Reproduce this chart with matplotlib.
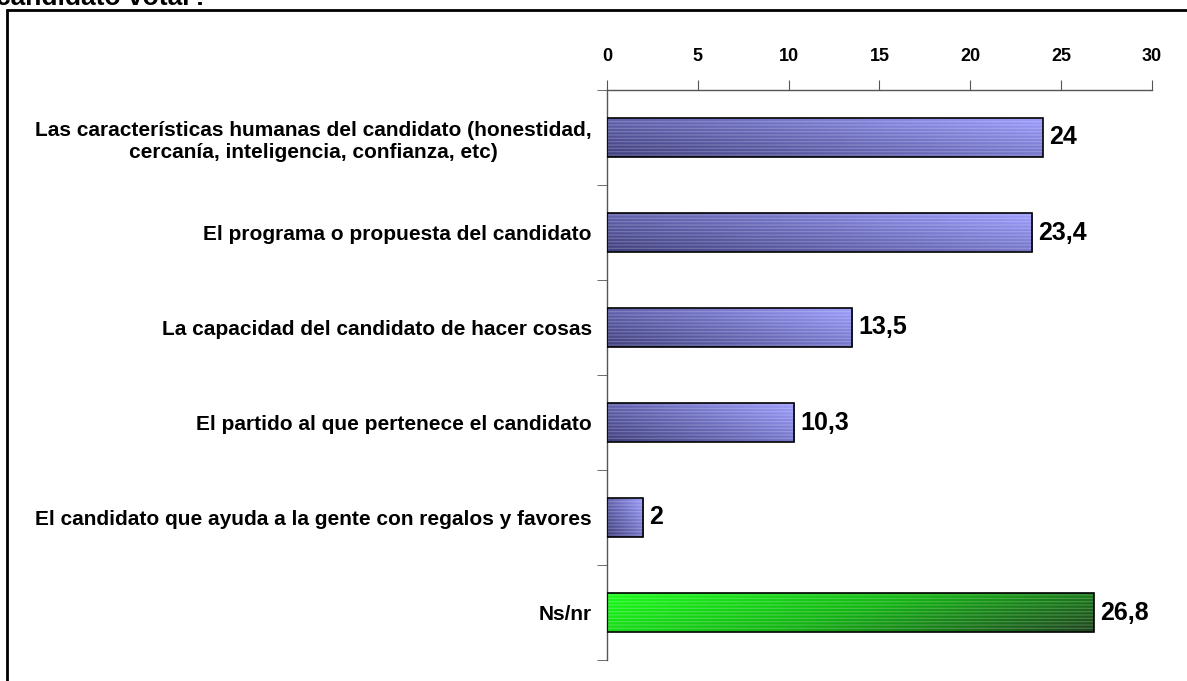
import matplotlib
matplotlib.use('Agg')
import matplotlib.pyplot as plt
import numpy as np
from matplotlib.colors import LinearSegmentedColormap
from matplotlib.patches import Rectangle

plt.rcParams['font.family'] = ['Liberation Sans', 'DejaVu Sans']
plt.rcParams['hatch.linewidth'] = 0.8

categories = [
    "Las características humanas del candidato (honestidad,\ncercanía, inteligencia, confianza, etc)",
    "El programa o propuesta del candidato",
    "La capacidad del candidato de hacer cosas",
    "El partido al que pertenece el candidato",
    "El candidato que ayuda a la gente con regalos y favores",
    "Ns/nr",
]
values = [24, 23.4, 13.5, 10.3, 2, 26.8]
value_labels = ["24", "23,4", "13,5", "10,3", "2", "26,8"]
xticks = [0, 5, 10, 15, 20, 25, 30]

W, H = 1187, 681
fig = plt.figure(figsize=(W / 100, H / 100), dpi=100)
ax = fig.add_axes([607 / W, 1 - 660 / H, (1152 - 607) / W, (660 - 90) / H])

blue = LinearSegmentedColormap.from_list('b', ['#40407e', '#6c6cbc', '#9e9eff'])
green = LinearSegmentedColormap.from_list('g', ['#1aff1a', '#14b414', '#1e441e'])

y = np.arange(len(categories))
bh = 0.42
bars = ax.barh(y, values, height=bh, facecolor='none', edgecolor='black',
               linewidth=1.2, zorder=3)

u = np.linspace(0, 1, 200)
v = np.linspace(0, 1, 40)
U, V = np.meshgrid(u, v)  # V=0 at top row of image
for i, (b, val) in enumerate(zip(bars, values)):
    if categories[i] == "Ns/nr":
        t = 0.75 * U + 0.25 * V
        cmap = green
    else:
        t = 0.6 * U + 0.4 * (1 - V)
        cmap = blue
    im = ax.imshow(t, cmap=cmap, extent=[0, val, i + bh / 2, i - bh / 2],
                   aspect='auto', zorder=2, origin='upper', vmin=0, vmax=1)
    im.set_clip_path(b)
    # faint line texture
    ax.barh(i, val, height=bh, facecolor='none', edgecolor=(1, 1, 1, 0.22),
            hatch='-----', linewidth=0, zorder=2.5)

for i, (val, lab) in enumerate(zip(values, value_labels)):
    ax.text(val + 0.33, i, lab, va='center', ha='left', fontsize=18,
            fontweight='bold')

ax.set_xlim(0, 30)
ax.set_ylim(len(categories) - 0.5, -0.5)
ax.xaxis.tick_top()
ax.set_xticks(xticks)
ax.set_xticklabels([str(t) for t in xticks], fontsize=13, fontweight='bold')
ax.tick_params(axis='x', direction='out', length=7, color='#555555', pad=11)

ax.set_yticks(y)
ax.set_yticklabels(categories, fontsize=15, fontweight='bold', ha='right',
                   multialignment='center')
ax.tick_params(axis='y', which='major', length=0, pad=11)
ax.set_yticks(np.arange(-0.5, len(categories)), minor=True)
ax.tick_params(axis='y', which='minor', direction='out', length=7, color='#555555')

for s in ['right', 'bottom']:
    ax.spines[s].set_visible(False)
for s in ['left', 'top']:
    ax.spines[s].set_color('#555555')
    ax.spines[s].set_linewidth(1)

# outer frame (cropped) and cut-off title
fig.patches.append(Rectangle((7 / W, -0.05), 1.2, 1 - 10 / H + 0.05,
                             transform=fig.transFigure, fill=False,
                             edgecolor='black', linewidth=2))
fig.text(-4 / W, 1 - 5 / H, "candidato votar?", fontsize=19,
         fontweight='bold', va='baseline', ha='left')

plt.savefig('out.png', dpi=100)
